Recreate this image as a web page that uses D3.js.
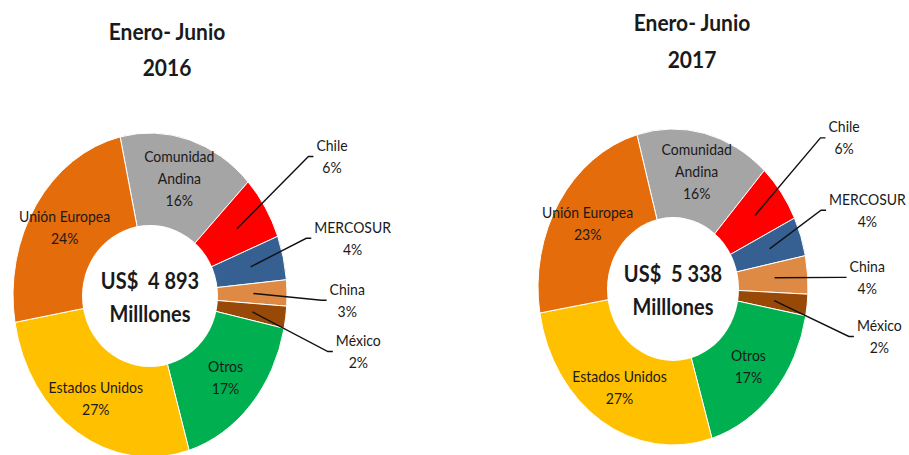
<!DOCTYPE html>
<html>
<head>
<meta charset="utf-8">
<script src="https://cdn.jsdelivr.net/npm/d3@7"></script>
<style>
  body { margin: 0; background: #fff; }
  svg { display: block; font-family: Lato, "Open Sans", sans-serif; }
  text { white-space: pre; }
</style>
</head>
<body>
<div id="chart"></div>
<script>
// data
const categories = ["Comunidad Andina", "Chile", "MERCOSUR", "China", "México", "Otros", "Estados Unidos", "Unión Europea"];
const labelLines = [["Comunidad", "Andina"], ["Chile"], ["MERCOSUR"], ["China"], ["México"], ["Otros"], ["Estados Unidos"], ["Unión Europea"]];
const share2016 = [16.2, 6.4, 4.4, 2.6, 2.2, 17.1, 26.9, 24.2];
const share2017 = [16.1, 6.0, 4.0, 3.9, 2.2, 17.4, 27.0, 23.3];
const periods = ["2016", "2017"];
const totals = ["4 893", "5 338"];
const colors = ["#a5a5a5", "#ff0000", "#376092", "#de8a44", "#984807", "#00b050", "#ffc000", "#e46c0a"];

// which slices get a label outside with a leader line
const outside = [false, true, true, true, true, false, false, false];
const outR = [0, 1.58, 1.52, 1.44, 1.56, 0, 0, 0];
const outShift = [0, 0, 0, 2, 5, 0, 0, 0];

const width = 909, height = 455;
const stretch = 1.12;
const lineH = 22;

let charts = [
  { values: share2016, cx: 150, cy: 295, rx: 137, ry: 162, hrx: 68, hry: 71, hcy: 296, start: -12.6, titleX: 167, titleY: [32, 68] },
  { values: share2017, cx: 673, cy: 287, rx: 135, ry: 158, hrx: 66, hry: 72, hcy: 289, start: -15.5, titleX: 692, titleY: [23, 60] }
];

let svg = d3.select('#chart').append('svg')
  .attr('width', width)
  .attr('height', height);

function stretchedText(g, x, y, str, size, weight) {
  return g.append('text')
    .attr('transform', `translate(${x},${y}) scale(1,${stretch})`)
    .attr('text-anchor', 'middle')
    .attr('dy', '0.35em')
    .attr('font-size', size)
    .attr('font-weight', weight || 'normal')
    .attr('fill', '#1a1a1a')
    .text(str);
}

charts.forEach((c, ci) => {
  let g = svg.append('g');
  let a0 = c.start * Math.PI / 180;
  let pie = d3.pie().sort(null).value(d => d.v)
    .startAngle(a0).endAngle(a0 + 2 * Math.PI);
  let data = categories.map((name, i) => ({ name: name, v: c.values[i], i: i }));
  let arcs = pie(data);
  let arc = d3.arc().innerRadius(0).outerRadius(c.rx);
  let pt = (a, r) => [c.cx + r * c.rx * Math.sin(a), c.cy - r * c.ry * Math.cos(a)];

  // title
  stretchedText(g, c.titleX, c.titleY[0], "Enero- Junio", 21, 'bold');
  stretchedText(g, c.titleX, c.titleY[1], periods[ci], 21, 'bold');

  // ring
  let ring = g.append('g')
    .attr('transform', `translate(${c.cx},${c.cy}) scale(1,${c.ry / c.rx})`);
  ring.selectAll('path')
    .data(arcs)
    .enter()
    .append('path')
    .attr('d', arc)
    .attr('fill', d => colors[d.data.i])
    .attr('stroke', '#fff')
    .attr('stroke-width', 1)
    .attr('vector-effect', 'non-scaling-stroke');

  // white centre
  g.append('ellipse')
    .attr('cx', c.cx).attr('cy', c.hcy)
    .attr('rx', c.hrx).attr('ry', c.hry)
    .attr('fill', '#fff');

  stretchedText(g, c.cx, c.hcy - 15, "US$  " + totals[ci], 20, 'bold');
  stretchedText(g, c.cx, c.hcy + 18, "Milllones", 20, 'bold');

  // labels
  arcs.forEach(d => {
    let i = d.data.i;
    let mid = (d.startAngle + d.endAngle) / 2;
    let lines = labelLines[i].concat([Math.round(d.data.v) + "%"]);
    let pos;
    if (outside[i]) {
      pos = pt(mid + outShift[i] * Math.PI / 180, outR[i]);
    } else {
      pos = pt(mid, 0.75);
    }
    let n = lines.length;
    let maxW = 0;
    lines.forEach((s, k) => {
      let t = stretchedText(g, pos[0], pos[1] + (k - (n - 1) / 2) * lineH, s, 14);
      maxW = Math.max(maxW, t.node().getComputedTextLength());
    });
    if (outside[i]) {
      let p1 = pt(mid, 0.755);
      let endX = pos[0] - maxW / 2 - 3;
      let p2 = [endX - 5, pos[1]];
      let p3 = [endX, pos[1]];
      g.append('path')
        .attr('d', d3.line()([p1, p2, p3]))
        .attr('fill', 'none')
        .attr('stroke', '#111')
        .attr('stroke-width', 1.4);
    }
  });
});
</script>
</body>
</html>
